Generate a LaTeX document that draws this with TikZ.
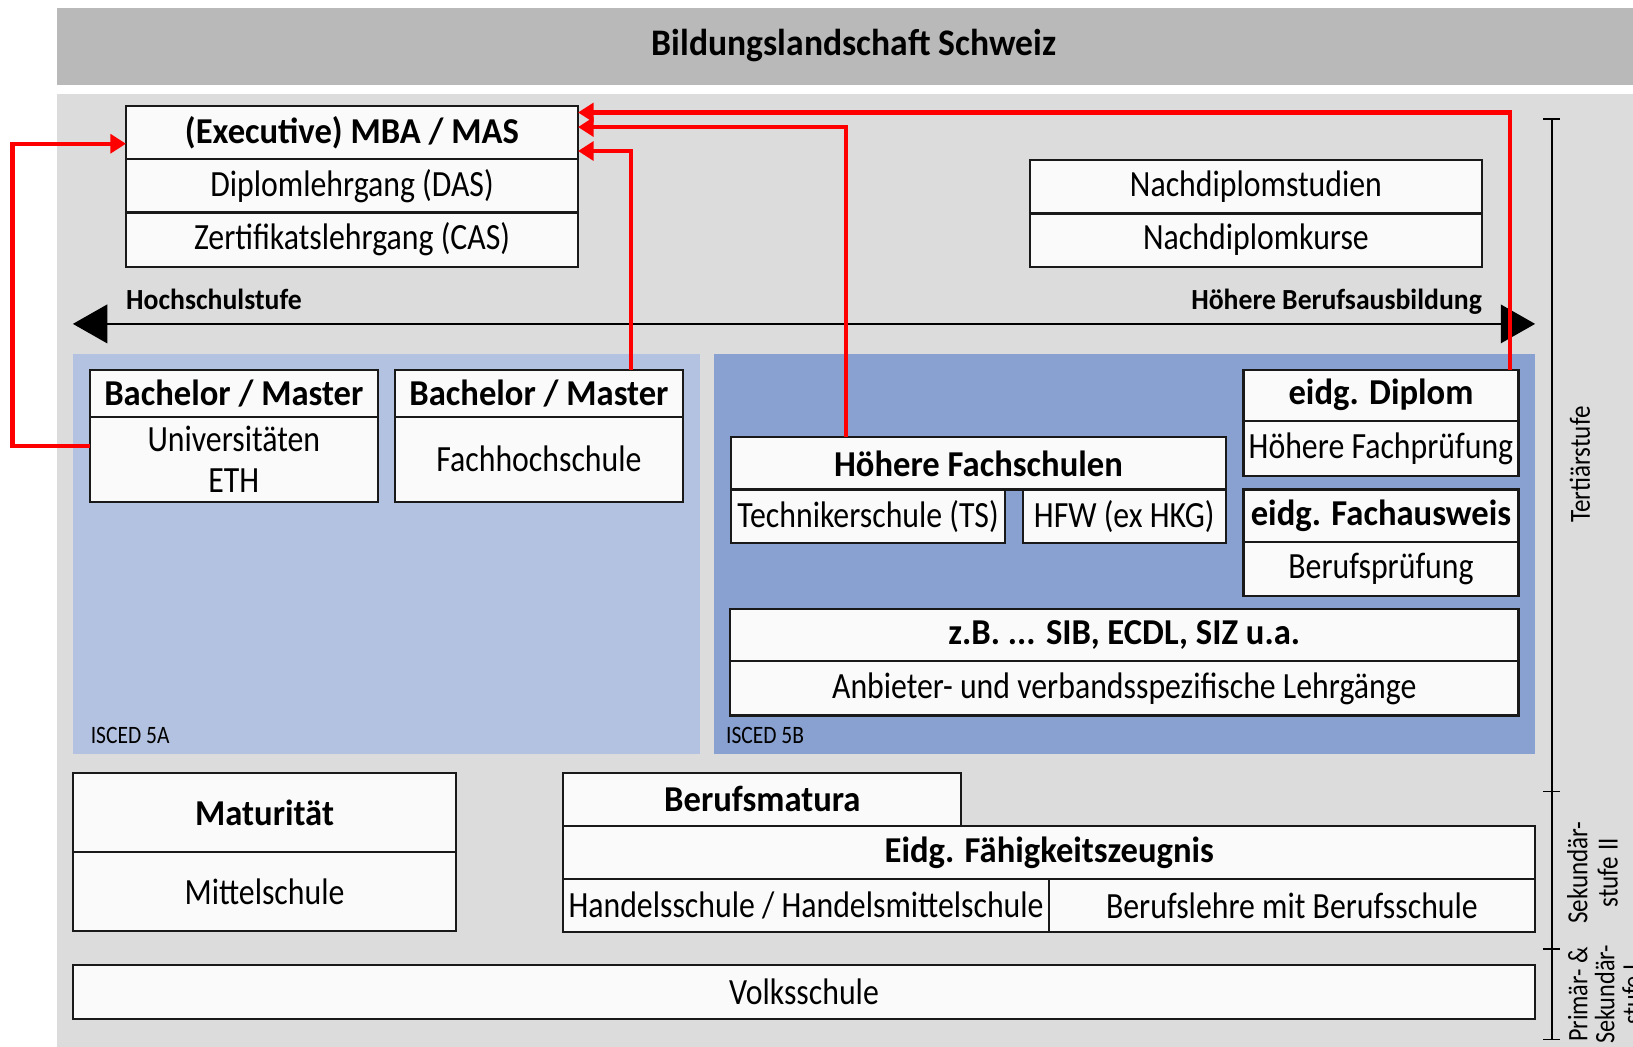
\documentclass[tikz,border=0pt]{standalone}
\usepackage{fontspec}
\setmainfont{Carlito}[FakeStretch=0.86, BoldFeatures={FakeStretch=0.95}]
\usetikzlibrary{arrows.meta,calc}
\definecolor{titlegray}{RGB}{185,185,185}
\definecolor{bodygray}{RGB}{220,220,220}
\definecolor{blueA}{RGB}{179,194,225}
\definecolor{blueB}{RGB}{137,161,208}
\definecolor{boxfill}{RGB}{250,250,250}
\definecolor{linkred}{RGB}{255,0,0}
\newcommand\myfTitle{\bfseries\fontsize{36}{38}\selectfont}
\newcommand\myfB{\bfseries\fontsize{35}{37}\selectfont}
\newcommand\myfN{\fontsize{35.5}{40}\selectfont}
\newcommand\myfS{\bfseries\fontsize{28}{30}\selectfont}
\newcommand\myfI{\fontsize{24}{26}\selectfont}
\newcommand\myfR{\fontsize{28}{29}\selectfont}
\newcommand\myfRt{\fontsize{27}{26}\selectfont}
\begin{document}
\begin{tikzpicture}[x=1pt,y=-1pt,
  cell/.style={draw=black!90, line width=2pt, fill=boxfill, inner sep=0pt, outer sep=0pt,
    anchor=north west, align=center, font=\myfN},
  hcell/.style={cell, font=\myfB},
  redline/.style={draw=linkred, line width=4pt, -{Triangle[length=15pt,width=18pt]}},
  scaleline/.style={draw=black, line width=1.5pt}]
\useasboundingbox (0,0) rectangle (1568,1005);
\clip (0,0) rectangle (1568,1005);
% backgrounds
\fill[white] (0,0) rectangle (1568,1005);
\fill[titlegray] (55,8) rectangle (1568,82);
\node[font=\myfTitle] (title) at (820,44) {Bildungslandschaft Schweiz};
\fill[bodygray] (55,90) rectangle (1568,1005);
\fill[blueA] (70,340) rectangle (672,724);
\fill[blueB] (686,340) rectangle (1474,724);
\node[font=\myfI, anchor=west, inner sep=0pt] (i5a) at (87,706) {ISCED 5A};
\node[font=\myfI, anchor=west, inner sep=0pt] (i5b) at (697,706) {ISCED 5B};
% MBA
\node[hcell, minimum width=434pt, minimum height=51pt] (mba) at (121,102) {(Executive) MBA / MAS};
\node[cell, minimum width=434pt, minimum height=51pt] (das) at (121,153) {Diplomlehrgang (DAS)};
\node[cell, minimum width=434pt, minimum height=52pt] (cas) at (121,204) {Zertifikatslehrgang (CAS)};
% Nachdiplom
\node[cell, minimum width=434pt, minimum height=51pt] (nds) at (989,154) {Nachdiplomstudien};
\node[cell, minimum width=434pt, minimum height=51pt] (ndk) at (989,205) {Nachdiplomkurse};
% double arrow
\coordinate (al) at (70,311);
\coordinate (ar) at (1474,311);
\draw[line width=2pt, {Triangle[length=33pt,width=37pt]}-{Triangle[length=33pt,width=37pt]}] (al) -- (ar);
\node[font=\myfS, anchor=base west, inner sep=0pt] (hs) at (121,297) {Hochschulstufe};
\node[font=\myfS, anchor=base east, inner sep=0pt] (hb) at (1423,297) {Höhere Berufsausbildung};
% ISCED 5A
\node[hcell, minimum width=277pt, minimum height=45pt] (uniH) at (86,355) {Bachelor / Master};
\node[cell, minimum width=277pt, minimum height=82pt] (uniB) at (86,400) {Universitäten\\ETH};
\node[hcell, minimum width=277pt, minimum height=45pt] (fhH) at (379,355) {Bachelor / Master};
\node[cell, minimum width=277pt, minimum height=82pt] (fhB) at (379,400) {Fachhochschule};
% ISCED 5B
\node[hcell, minimum width=475pt, minimum height=50pt] (hfs) at (702,420) {Höhere Fachschulen};
\node[cell, minimum width=263pt, minimum height=51pt] (ts) at (702,470) {Technikerschule (TS)};
\node[cell, minimum width=195pt, minimum height=51pt] (hfw) at (982,470) {HFW (ex HKG)};
\node[hcell, minimum width=264pt, minimum height=49pt] (dipl) at (1194,355) {eidg. Diplom};
\node[cell, minimum width=264pt, minimum height=53pt] (hfp) at (1194,404) {Höhere Fachprüfung};
\node[hcell, minimum width=264pt, minimum height=50pt] (fa) at (1194,470) {eidg. Fachausweis};
\node[cell, minimum width=264pt, minimum height=52pt] (bp) at (1194,520) {Berufsprüfung};
\node[hcell, minimum width=757pt, minimum height=50pt] (zb) at (701,585) {z.B. ... SIB, ECDL, SIZ u.a.};
\node[cell, minimum width=757pt, minimum height=52pt] (anb) at (701,635) {Anbieter- und verbandsspezifische Lehrgänge};
% Sekundar II
\node[hcell, minimum width=368pt, minimum height=76pt] (mat) at (70,742) {Maturität};
\node[cell, minimum width=368pt, minimum height=76pt] (mit) at (70,818) {Mittelschule};
\node[hcell, minimum width=382pt, minimum height=51pt] (bm) at (541,742) {Berufsmatura};
\node[hcell, minimum width=933pt, minimum height=51pt] (efz) at (541,793) {Eidg. Fähigkeitszeugnis};
\node[cell, minimum width=466pt, minimum height=51pt] (hms) at (541,844) {Handelsschule / Handelsmittelschule};
\node[cell, minimum width=467pt, minimum height=51pt] (bl) at (1007,844) {Berufslehre mit Berufsschule};
\node[cell, minimum width=1404pt, minimum height=51pt] (vs) at (70,927) {Volksschule};
% scale on the right
\coordinate (st) at (1490,114);
\coordinate (sb) at (1490,998);
\draw[scaleline] (st) -- (sb);
\foreach \yy in {114,760,911,998} \draw[scaleline] (1482,\yy) -- (1498,\yy);
\node[font=\myfR, rotate=90, align=center] (tert) at (1517,446) {Tertiärstufe};
\node[font=\myfR, rotate=90, align=center] (sek2) at (1529,838) {Sekundär-\\stufe II};
\node[font=\myfRt, rotate=90, align=center] (sek1) at (1541,955) {Primär- \&\\Sekundär-\\stufe I};
% red connectors
\draw[redline] ($(uniH.south west)+(0,28)$) -- ++(-74,0) |- ($(mba.north west)+(0,36)$);
\draw[redline] ($(fhH.north west)+(227,0)$) |- ($(mba.north east)+(0,43)$);
\draw[redline] ($(hfs.north west)+(110,0)$) |- ($(mba.north east)+(0,20)$);
\draw[redline] ($(dipl.north east)+(-8,0)$) |- ($(mba.north east)+(0,6)$);
\end{tikzpicture}
\end{document}
